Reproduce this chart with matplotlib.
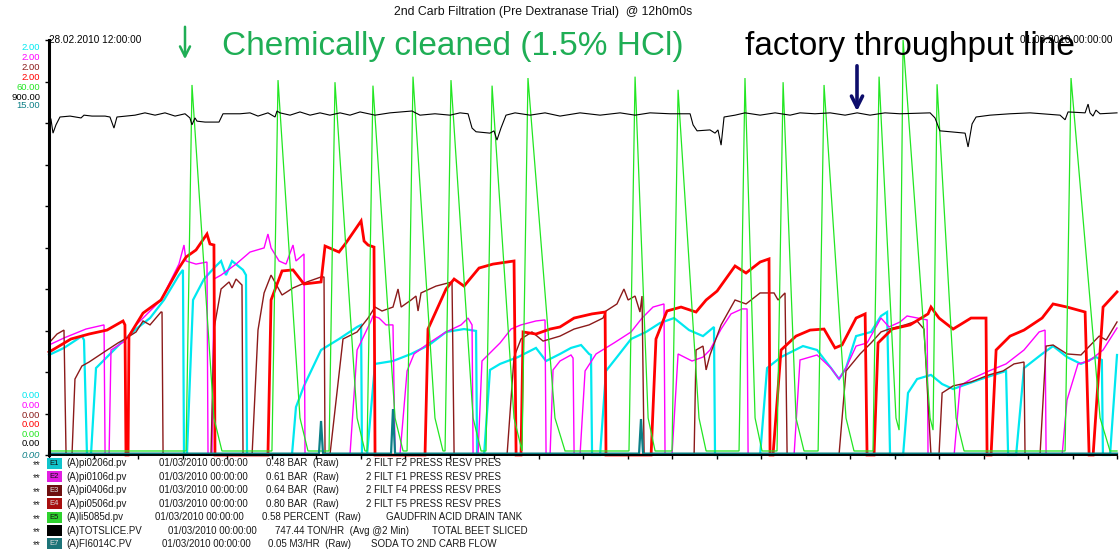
import matplotlib
matplotlib.use("Agg")
import matplotlib.pyplot as plt
import numpy as np

plt.rcParams['font.family'] = ['Liberation Sans', 'DejaVu Sans']

# ---------------- data (time in minutes after 28.02.2010 12:00) ----------------
# F2 filter pressure (BAR), cyan
f2_t = [0, 10.1, 22.2, 23.6, 25.6, 28.3, 31.7, 39.1, 48.5, 58.7, 68.1, 77.5, 87.6, 90.3, 91, 93,
        97.1, 104.5, 111.2, 116, 119.3, 123.4, 130.8, 132.8, 133.5, 163.8, 166.5, 171.9, 183.4,
        195.5, 207.7, 210.4, 211, 214.4, 219.8, 231.9, 244.1, 256.2, 267.7, 279.8, 287.9, 288.6,
        293.3, 297.3, 304.1, 316.2, 328.3, 335.1, 344.5, 351.9, 358.7, 364.1, 365.4, 366.1, 371.5,
        375.5, 382.9, 392.4, 402.5, 411.9, 421.4, 431.5, 440.9, 448.3, 449, 479.4, 484.1, 493.5,
        508.3, 517.8, 527.2, 532.6, 537.3, 544.1, 554.2, 560.9, 565, 567, 575.8, 579.1, 585.2,
        594.6, 602.1, 609.5, 628.3, 645.2, 646.6, 652, 657.3, 669.5, 676.9, 686.3, 695.7, 705.8,
        709.8, 710.5, 715.3, 720]
f2_v = [0.482, 0.516, 0.573, 0.554, 0, 0, 0.419, 0.472, 0.540, 0.607, 0.660, 0.747, 0.867, 0.892, 0, 0,
        0.747, 0.848, 0.901, 0.935, 0.867, 0.935, 0.892, 0.867, 0, 0, 0.231, 0.333, 0.506,
        0.559, 0.617, 0.627, 0, 0, 0.439, 0.453, 0.487, 0.530, 0.593, 0.607, 0.598, 0,
        0, 0.410, 0.439, 0.472, 0.516, 0.453, 0.487, 0.516, 0.530, 0.487, 0.482, 0, 0,
        0.405, 0.472, 0.559, 0.593, 0.636, 0.660, 0.602, 0.573, 0.617, 0, 0, 0.419, 0.472,
        0.525, 0.506, 0.419, 0.366, 0.419, 0.573, 0.593, 0.670, 0.689, 0, 0, 0.299, 0.366,
        0.386, 0.342, 0.318, 0.366, 0.405, 0, 0, 0.419, 0.487, 0.525, 0.472, 0.439, 0.472,
        0.458, 0, 0, 0.482]

# F1 filter pressure (BAR), magenta
f1_t = [0, 10.1, 24.9, 37.1, 37.8, 40.5, 41.8, 51.2, 58.7, 63.4, 75.5, 87.6, 91, 92.4, 99.1, 106.5,
        107.2, 109.9, 111.2, 116, 126.1, 135.5, 145, 147.6, 149.7, 155.1, 159.8, 164.5, 166.5,
        171.9, 172.6, 202.9, 207.7, 217.1, 218.4, 222.5, 227.2, 231.9, 233.3, 236.6, 241.4, 246.1,
        256.2, 267.7, 277.8, 282.5, 285.2, 285.9, 289.2, 291.9, 299.3, 304.1, 311.5, 318.2, 328.3,
        334.4, 335.1, 337.8, 339.8, 344.5, 351.9, 353.3, 354, 358, 361.4, 368.8, 380.9, 392.4,
        399.8, 407.2, 414.6, 415.3, 420, 424.1, 433.5, 440.9, 445.6, 453.1, 459.8, 467.2, 470.6,
        471.3, 502.3, 506.3, 517.8, 527.2, 532.6, 537.3, 544.1, 551.5, 560.9, 566.3, 573.7, 578.5,
        592, 592.6, 610.2, 614.2, 621.6, 633.7, 645.2, 657.3, 667.5, 671.5, 672.2, 683, 686.3,
        693.7, 701.2, 710.6, 720]
f1_v = [0.530, 0.564, 0.607, 0.627, 0, 0, 0.506, 0.549, 0.627, 0.660, 0.747, 0.920, 1.012, 0.935, 0.920, 0.930,
        0, 0, 0.848, 0.867, 0.920, 0.978, 0.998, 1.065, 0.998, 0.935, 0.920, 1.012, 0.935,
        0.969, 0, 0, 0.506, 0.646, 0.670, 0.660, 0.627, 0.627, 0, 0, 0.405, 0.487,
        0.540, 0.593, 0.627, 0.660, 0.627, 0, 0, 0.453, 0.506, 0.540, 0.607, 0.627, 0.646,
        0.651, 0, 0, 0.410, 0.453, 0.482, 0.467, 0, 0, 0.405, 0.487, 0.540, 0.593,
        0.660, 0.713, 0.728, 0, 0, 0.487, 0.453, 0.472, 0.506, 0.607, 0.680, 0.704, 0.704,
        0, 0, 0.458, 0.482, 0.419, 0.366, 0.419, 0.525, 0.540, 0.660, 0.617, 0.641, 0.670,
        0.651, 0, 0, 0.333, 0.366, 0.405, 0.439, 0.506, 0.593, 0.602, 0, 0, 0.265,
        0.439, 0.453, 0.506, 0.612]

# F4 filter pressure (BAR), brown
f4_t = [0, 5.4, 10.1, 11.5, 15.5, 17.5, 22.2, 27, 37.1, 46.5, 51.2, 58.7, 63.4, 68.1, 75.5, 76.2, 76.9,
        109.2, 111.2, 116, 121.4, 123.4, 126.1, 130.1, 130.8, 136.9, 140.9, 145, 149.7, 157.1, 164.5,
        173.9, 183.4, 185.4, 186.1, 189.4, 198.2, 207.7, 215.1, 219.8, 224.5, 231.9, 235.3, 237.4,
        244.1, 247.4, 248.8, 250.8, 260.9, 271.7, 273.1, 308.8, 313.5, 318.2, 325.6, 333.1, 344.5,
        354, 364.1, 373.5, 375.5, 382.9, 387.6, 390.4, 395.1, 398.4, 399.8, 401.2, 434.9, 436.2,
        440.9, 443, 445.6, 453.1, 462.5, 469.9, 479.4, 488.8, 491.5, 496.2, 497.6, 532.6, 537.3,
        546.8, 554.2, 560.9, 566.3, 577.1, 585.2, 589.9, 594.6, 600, 602.1, 609.5, 621.6, 633.7,
        643.2, 650.6, 657.3, 658, 668.1, 672.2, 676.9, 686.3, 695.7, 708, 712.7, 720]
f4_v = [0.540, 0.583, 0.602, 0, 0, 0.366, 0.429, 0.448, 0.496, 0.540, 0.559, 0.593, 0.646, 0.627, 0.689, 0.689, 0,
        0, 0.607, 0.800, 0.834, 0.805, 0.848, 0.819, 0, 0, 0.602, 0.781, 0.867, 0.771, 0.805,
        0.834, 0.858, 0.858, 0, 0, 0.559, 0.593, 0.660, 0.713, 0.694, 0.713, 0.800, 0.713,
        0.747, 0.766, 0.694, 0.781, 0.814, 0.834, 0, 0, 0.472, 0.559, 0.593, 0.549, 0.573,
        0.607, 0.627, 0.660, 0.694, 0.728, 0.800, 0.747, 0.766, 0.689, 0.766, 0, 0, 0.506,
        0.525, 0.410, 0.482, 0.627, 0.747, 0.728, 0.781, 0.781, 0.747, 0.781, 0, 0, 0.405,
        0.487, 0.540, 0.593, 0.607, 0.627, 0.646, 0.607, 0, 0, 0.299, 0.333, 0.352, 0.386,
        0.405, 0.439, 0.448, 0, 0, 0.525, 0.530, 0.487, 0.482, 0.573, 0.554, 0.641]

# F5 filter pressure (BAR), red
f5_t = [0, 14.8, 27, 39.1, 49.9, 51.2, 51.9, 53.3, 53.9, 63.4, 75.5, 87.6, 92.4, 99.1, 106.5, 108.5,
        111.2, 111.9, 147.6, 149.7, 157.1, 164.5, 171.9, 183.4, 186.1, 195.5, 200.2, 210.4, 212.4,
        215.1, 219.1, 219.8, 253.5, 255.5, 267.7, 273.1, 279.8, 289.9, 299.3, 313.5, 314.9, 318.2,
        319.6, 328.3, 337.8, 344.5, 354, 366.1, 374.9, 375.5, 405.9, 409.2, 416.6, 426.1, 436.2,
        443, 450.4, 462.5, 469.9, 479.4, 485.4, 486.1, 488.1, 493.5, 503.6, 513.1, 522.5, 529.9,
        534.6, 544.1, 550.2, 551.5, 556.2, 558.9, 568.4, 580.5, 592.6, 594.6, 600, 609.5, 621.6,
        631.7, 632.4, 635.1, 638.5, 647.9, 657.3, 669.5, 676.9, 686.3, 698.5, 701.2, 703.9, 710.6, 720]
f5_v = [0.496, 0.559, 0.583, 0.602, 0.646, 0.627, 0, 0, 0.573, 0.684, 0.747, 0.901, 0.954, 0.988, 1.065, 1.017,
        1.012, 0, 0, 0.747, 0.887, 0.892, 0.824, 0.834, 1.007, 0.978, 1.022, 1.128, 1.031,
        1.012, 1.002, 0, 0, 0.607, 0.800, 0.848, 0.814, 0.901, 0.920, 0.935, 0, 0,
        0.593, 0.583, 0.607, 0.617, 0.660, 0.680, 0.689, 0, 0, 0.559, 0.694, 0.713, 0.689,
        0.747, 0.790, 0.911, 0.877, 0.930, 0.945, 0, 0, 0.506, 0.573, 0.602, 0.607, 0.516,
        0.530, 0.660, 0.680, 0, 0, 0.540, 0.607, 0.627, 0.680, 0.713, 0.660, 0.607, 0.660,
        0.660, 0, 0, 0.506, 0.573, 0.602, 0.660, 0.728, 0.713, 0.689, 0, 0, 0.713, 0.786]

# Gaudfrin acid drain tank level (PERCENT), green
acid_t = [0, 92.4, 96.4, 111.2, 116.6, 150.3, 154.4, 169.2, 174.6, 188.8, 192.8, 207.7, 213, 214.4,
          218.4, 233.3, 238.7, 241.4, 245.4, 260.2, 265.6, 267, 271, 285.9, 291.3, 294.6, 298.7,
          313.5, 318.9, 322.9, 341.1, 347.9, 391, 395.1, 403.9, 408.6, 420, 424.1, 438.2, 443,
          465.2, 469.2, 476, 480.7, 490.8, 494.9, 503.6, 509, 518.5, 522.5, 537.3, 542.7, 555.5,
          559.6, 571, 573.1, 575.8, 594, 596, 598.7, 611.5, 616.9, 685, 689, 708.6, 715.3, 720]
acid_v = [0.58, 0.58, 53.5, 5.35, 0.58, 0.58, 54.2, 5.35, 0.58, 0.58, 53.9, 5.35, 0.58, 0.58,
          53.4, 5.35, 0.58, 0.58, 54.7, 5.35, 0.58, 0.58, 54.2, 5.35, 0.58, 0.58, 53.4,
          5.35, 0.58, 54.5, 5.35, 0.58, 0.58, 54.7, 5.35, 0.58, 0.58, 52.8, 5.35, 0.58,
          0.58, 54.5, 5.35, 0.58, 0.58, 53.9, 5.35, 0.58, 0.58, 53.5, 5.35, 0.58, 0.58,
          54.7, 5.35, 3.6, 60.0, 5.35, 3.6, 53.6, 5.35, 0.58, 0.58, 54.5, 5.35, 0.58, 0.58]

# Total beet sliced (TON/HR), black
beet_t = [0, 1.3, 2.7, 4.7, 7.4, 14.2, 21.6, 23.6, 29, 37.8, 41.1, 43.8, 45.8, 58, 64.7, 71.5, 78.2,
          85, 91.7, 95, 96.4, 98.4, 99.8, 105.2, 114.6, 117.3, 128.8, 135.5, 140.9, 147.6, 152.4,
          153.7, 155.7, 162.5, 169.2, 176, 182.7, 189.4, 196.2, 202.9, 209.7, 219.8, 229.9, 244.7,
          250.1, 260.2, 270.4, 277.1, 282.5, 285.2, 287.9, 297.3, 300, 302, 304.7, 308.1, 314.2,
          324.3, 334.4, 344.5, 358, 371.5, 385, 395.1, 405.2, 418.7, 432.2, 434.2, 436.9, 445.6,
          449, 451, 453.1, 455.1, 462.5, 469.2, 479.4, 489.5, 499.6, 506.3, 516.4, 526.6, 536.7,
          544.8, 553.5, 563.6, 573.7, 594, 597.3, 600.6, 607.5, 617.6, 619.6, 622.3, 625, 634.4,
          647.9, 661.4, 681.6, 685, 687, 698.5, 700.5, 701.8, 703.8, 705.8, 708.6, 720]
beet_v = [731, 729, 698, 716, 733, 735, 731, 737, 735, 735, 733, 709, 733, 737, 742, 737, 742,
          735, 740, 731, 716, 731, 724, 722, 722, 740, 740, 742, 735, 742, 733,
          746, 742, 737, 744, 737, 742, 737, 742, 737, 744, 737, 742, 746,
          737, 740, 737, 742, 740, 709, 701, 698, 703, 683, 709, 737, 742,
          737, 742, 735, 742, 737, 742, 737, 742, 740, 740, 716, 703, 705,
          698, 705, 672, 733, 737, 742, 737, 742, 737, 742, 740, 742, 737,
          742, 737, 742, 740, 742, 731, 703, 701, 698, 668, 718, 733, 737,
          740, 742, 737, 727, 744, 742, 761, 742, 735, 748, 740, 742]

# Soda to 2nd carb flow (M3/HR), teal
soda_t = [0, 182, 183.4, 184.7, 230.6, 231.9, 233.3, 397.8, 399.1, 400.5, 720]
soda_v = [0.05, 0.05, 1.23, 0.05, 0.05, 1.66, 0.05, 0.05, 1.30, 0.05, 0.05]

# pen scales: (top label, colour, full-scale)
scale_labels = ["2.00", "2.00", "2.00", "2.00", "60.00", "900.00", "15.00"]
scale_max = [2.0, 2.0, 2.0, 2.0, 60.0, 900.0, 15.0]
pen_colors = ["#00e8f0", "#ff00ff", "#8b1a1a", "#ff0000", "#22e622", "#000000", "#0b7f86"]

legend_tags = ["(A)pi0206d.pv", "(A)pi0106d.pv", "(A)pi0406d.pv", "(A)pi0506d.pv",
               "(A)li5085d.pv", "(A)TOTSLICE.PV", "(A)FI6014C.PV"]
legend_time = ["01/03/2010 00:00:00"] * 7
legend_values = ["0.48 BAR  (Raw)", "0.61 BAR  (Raw)", "0.64 BAR  (Raw)", "0.80 BAR  (Raw)",
                 "0.58 PERCENT  (Raw)", "747.44 TON/HR  (Avg @2 Min)", "0.05 M3/HR  (Raw)"]
legend_desc = ["2 FILT F2 PRESS RESV PRES", "2 FILT F1 PRESS RESV PRES",
               "2 FILT F4 PRESS RESV PRES", "2 FILT F5 PRESS RESV PRES",
               "GAUDFRIN ACID DRAIN TANK", "TOTAL BEET SLICED", "SODA TO 2ND CARB FLOW"]
legend_box = ["#10c4cc", "#e21ee2", "#6e0f0f", "#a80f0f", "#2ed22e", "#000000", "#1d7478"]

# ---------------- figure ----------------
W, H = 1119, 552
fig = plt.figure(figsize=(W / 100, H / 100), dpi=100)
L, R, T, B = 49, 1117, 40, 455
ax = fig.add_axes([L / W, 1 - B / H, (R - L) / W, (B - T) / H])
ax.set_xlim(0, 720)
ax.set_ylim(0, 1)

series = [(f2_t, f2_v, 0, 1.6), (f1_t, f1_v, 1, 1.0), (f4_t, f4_v, 2, 1.0),
          (f5_t, f5_v, 3, 2.0), (acid_t, acid_v, 4, 0.9), (beet_t, beet_v, 5, 0.8),
          (soda_t, soda_v, 6, 1.6)]
for t, v, k, lw in series:
    ax.plot(t, np.asarray(v) / scale_max[k], color=pen_colors[k], lw=lw, clip_on=False,
            solid_joinstyle='miter')

for s in ['top', 'right']:
    ax.spines[s].set_visible(False)
ax.spines['left'].set_linewidth(2.2)
ax.spines['bottom'].set_linewidth(1.4)
ax.set_xticks(np.arange(0, 721, 30))
ax.set_xticklabels([])
ax.set_yticks(np.arange(0, 1.01, 0.1))
ax.set_yticklabels([])
ax.tick_params(axis='x', direction='out', length=3, width=1)
ax.tick_params(axis='y', direction='out', length=3, width=1)


def px(x, y):
    return x / W, 1 - y / H


# scale labels
top_y = [48, 57.5, 67, 77, 87, 97, 106]
bot_y = [396, 406, 415, 424.5, 434.5, 444, 455]
for k in range(7):
    fig.text(*px(40, top_y[k]), scale_labels[k], color=pen_colors[k], fontsize=6.8,
             ha='right', va='center')
    fig.text(*px(40, bot_y[k]), "0.00", color=pen_colors[k], fontsize=6.8,
             ha='right', va='center', style='italic' if k == 6 else 'normal')

fig.text(*px(49, 40), "28.02.2010 12:00:00", fontsize=7.2, ha='left', va='center')
fig.text(*px(1112, 40), "01.03.2010 00:00:00", fontsize=7.2, ha='right', va='center')
fig.text(*px(543, 12), "2nd Carb Filtration (Pre Dextranase Trial)  @ 12h0m0s", fontsize=8.8,
         ha='center', va='center', color='#111111')

# annotations
fig.text(*px(222, 47), "Chemically cleaned (1.5% HCl)", fontsize=24, color='#1fae55',
         ha='left', va='center')
fig.text(*px(745, 47), "factory throughput line", fontsize=24, color='black',
         ha='left', va='center')
fig.add_artist(matplotlib.patches.FancyArrowPatch(px(185, 24), px(185, 62),
               transform=fig.transFigure, arrowstyle='->', mutation_scale=18, lw=1.8,
               color='#1fae55'))
fig.add_artist(matplotlib.patches.FancyArrowPatch(px(857, 63), px(857, 114),
               transform=fig.transFigure, arrowstyle='->', mutation_scale=20, lw=2.6,
               color='#0d0d6b'))

# legend rows
row_y0, row_dy = 463.5, 13.4
col_x = [(159, 266, 366), (159, 266, 366), (159, 266, 366), (159, 266, 366),
         (155, 262, 386), (168, 275, 432), (162, 268, 371)]
for i in range(7):
    y = row_y0 + i * row_dy
    fig.text(*px(33, y + 1.5), "**", fontsize=7, ha='left', va='center', color='#222')
    fig.add_artist(matplotlib.patches.Rectangle(px(47, y + 5.5), 15 / W, 11 / H,
                   transform=fig.transFigure, facecolor=legend_box[i], edgecolor='none'))
    if i != 5:
        fig.text(*px(54.5, y), "E%d" % (i + 1), fontsize=5.5, ha='center', va='center',
                 color='#dddddd' if i in (2, 3, 6) else '#111111')
    fig.text(*px(66, y), legend_tags[i], fontsize=7, ha='left', va='center', color='#1a1a1a')
    fig.text(*px(col_x[i][0], y), legend_time[i], fontsize=7, ha='left', va='center', color='#1a1a1a')
    fig.text(*px(col_x[i][1], y), legend_values[i], fontsize=7, ha='left', va='center', color='#1a1a1a')
    fig.text(*px(col_x[i][2], y), legend_desc[i], fontsize=7, ha='left', va='center', color='#1a1a1a')

fig.savefig("out.png", dpi=100)
